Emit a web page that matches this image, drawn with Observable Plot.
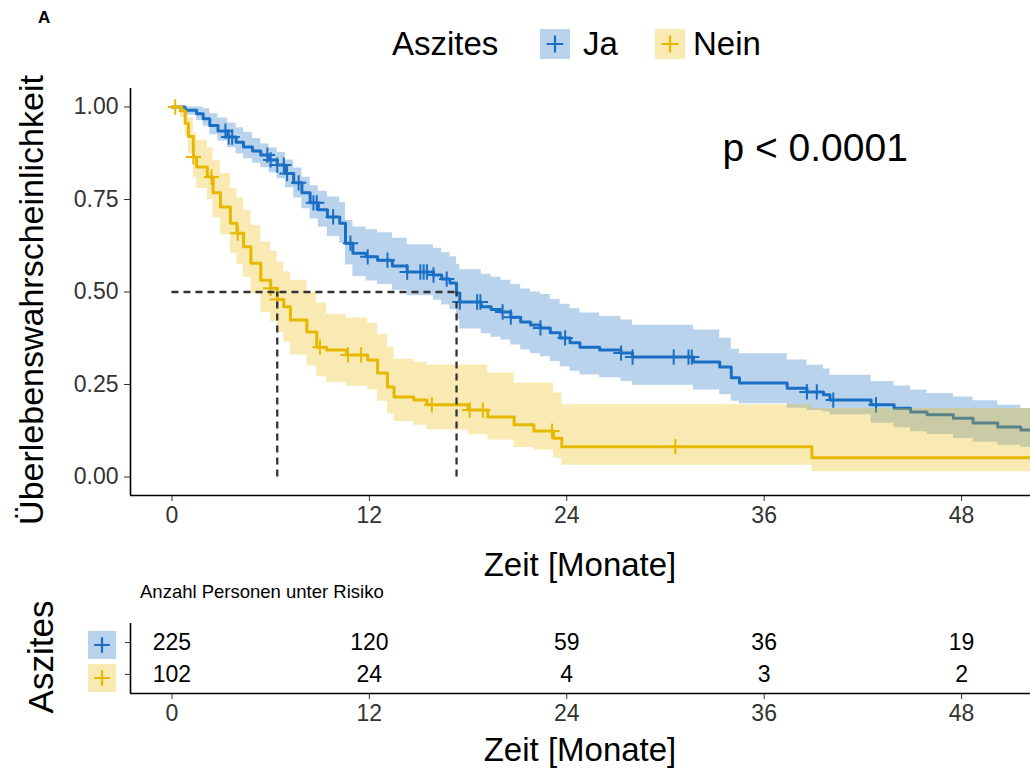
<!DOCTYPE html>
<html><head><meta charset="utf-8">
<script src="https://cdn.jsdelivr.net/npm/d3@7"></script>
<script src="https://cdn.jsdelivr.net/npm/@observablehq/plot@0.6"></script>
<style>
body{margin:0;background:#fff;}
#wrap{position:relative;width:1030px;height:776px;overflow:hidden;background:#fff;font-family:"Liberation Sans",Arial,Helvetica,sans-serif;color:#000;}
.abs{position:absolute;white-space:nowrap;}
.rot{position:absolute;white-space:nowrap;text-align:center;transform:rotate(-90deg);}
</style></head><body>
<div id="wrap">
  <div class="abs" style="left:38px;top:8px;font-size:17px;line-height:20px;font-weight:bold;">A</div>
  <div class="abs" style="left:392px;top:24px;font-size:33px;line-height:40px;">Aszites</div>
  <div class="abs" id="keyJa" style="left:540px;top:29px;"></div>
  <div class="abs" style="left:583px;top:24px;font-size:33px;line-height:40px;">Ja</div>
  <div class="abs" id="keyNein" style="left:655px;top:29px;"></div>
  <div class="abs" style="left:693px;top:24px;font-size:33px;line-height:40px;">Nein</div>
  <div class="abs" id="main" style="left:0;top:0;"></div>
  <div class="rot" style="left:-269px;top:280px;width:600px;height:40px;line-height:40px;font-size:34px;">Überlebenswahrscheinlichkeit</div>
  <div class="abs" style="left:280px;top:545px;width:600px;text-align:center;font-size:33px;line-height:40px;">Zeit [Monate]</div>
  <div class="abs" style="left:140px;top:582px;font-size:18.5px;line-height:20px;">Anzahl Personen unter Risiko</div>
  <div class="abs" id="risk" style="left:0;top:580px;"></div>
  <div class="rot" style="left:-59px;top:637px;width:200px;height:40px;line-height:40px;font-size:35px;">Aszites</div>
  <div class="abs" id="rkJa" style="left:88px;top:631px;"></div>
  <div class="abs" id="rkNein" style="left:88px;top:664px;"></div>
  <div class="abs" style="left:280px;top:730px;width:600px;text-align:center;font-size:33px;line-height:40px;">Zeit [Monate]</div>
</div>
<script>
// ---- data ----
const groups = ["Ja", "Nein"];
const tickMonths = [0, 12, 24, 36, 48];
const yTicks = [0, 0.25, 0.5, 0.75, 1];

const jaTime = [0, 0.8, 1.5, 1.9, 2.3, 2.8, 3.4, 3.9, 4.35, 4.9, 5.4, 5.9, 6.4, 6.9, 7.4, 7.9, 8.4, 8.9, 9.45, 10.2, 10.55, 11.0, 11.8, 12.5, 13.4, 14.3, 15.9, 16.4, 16.9, 17.3, 17.5, 18.8, 19.4, 20.0, 20.6, 21.2, 21.8, 22.4, 23.0, 23.6, 24.2, 24.8, 26.0, 27.3, 28.0, 31.7, 33.3, 34.0, 34.5, 37.4, 38.6, 39.6, 40.0, 42.5, 43.9, 44.9, 45.9, 47.5, 48.7, 50.2, 51.6, 53];
const jaSurv = [1, 0.991, 0.982, 0.968, 0.95, 0.935, 0.919, 0.905, 0.892, 0.881, 0.870, 0.857, 0.843, 0.82, 0.795, 0.768, 0.741, 0.722, 0.703, 0.686, 0.632, 0.605, 0.595, 0.586, 0.57, 0.554, 0.546, 0.535, 0.524, 0.497, 0.473, 0.46, 0.453, 0.446, 0.432, 0.419, 0.411, 0.403, 0.39, 0.376, 0.363, 0.351, 0.343, 0.335, 0.324, 0.311, 0.297, 0.268, 0.254, 0.240, 0.23, 0.222, 0.208, 0.195, 0.186, 0.176, 0.168, 0.159, 0.146, 0.135, 0.127, 0.127];
const jaUpper = [1, 1, 1, 0.995, 0.982, 0.97, 0.957, 0.944, 0.932, 0.915, 0.9, 0.889, 0.877, 0.857, 0.835, 0.81, 0.787, 0.772, 0.757, 0.742, 0.693, 0.676, 0.668, 0.66, 0.645, 0.628, 0.618, 0.606, 0.595, 0.575, 0.56, 0.548, 0.54, 0.532, 0.52, 0.508, 0.5, 0.493, 0.48, 0.467, 0.455, 0.443, 0.434, 0.424, 0.41, 0.397, 0.375, 0.345, 0.333, 0.316, 0.302, 0.292, 0.275, 0.258, 0.246, 0.235, 0.226, 0.216, 0.206, 0.194, 0.185, 0.185];
const jaLower = [1, 0.978, 0.963, 0.948, 0.925, 0.908, 0.89, 0.873, 0.86, 0.848, 0.836, 0.822, 0.806, 0.782, 0.754, 0.725, 0.697, 0.675, 0.65, 0.632, 0.573, 0.542, 0.53, 0.52, 0.505, 0.49, 0.478, 0.465, 0.452, 0.425, 0.4, 0.387, 0.378, 0.37, 0.357, 0.343, 0.333, 0.325, 0.312, 0.298, 0.286, 0.276, 0.268, 0.258, 0.248, 0.235, 0.222, 0.205, 0.198, 0.186, 0.18, 0.176, 0.168, 0.145, 0.133, 0.122, 0.115, 0.104, 0.094, 0.086, 0.08, 0.08];
const jaCensor = [3.25, 3.45, 3.66, 5.8, 6.0, 6.4, 6.8, 7.0, 7.7, 8.6, 8.8, 9.8, 10.85, 11.9, 13.1, 14.3, 15.1, 15.3, 15.5, 15.9, 16.7, 17.5, 18.55, 18.75, 20.1, 20.6, 22.4, 23.9, 27.3, 28.0, 30.5, 31.4, 31.6, 38.6, 39.2, 40.2, 42.8];

const neinTime = [0, 0.5, 0.8, 1.0, 1.3, 1.5, 2.15, 2.5, 2.95, 3.55, 3.95, 4.35, 4.8, 5.4, 6.0, 6.4, 6.8, 7.2, 8.2, 8.8, 9.4, 10.6, 11.9, 12.5, 13.1, 13.5, 14.7, 15.5, 18.0, 19.2, 20.8, 22.0, 23.2, 23.7, 38.9, 53];
const neinSurv = [1, 0.99, 0.956, 0.92, 0.865, 0.838, 0.811, 0.768, 0.73, 0.686, 0.659, 0.622, 0.578, 0.532, 0.51, 0.48, 0.46, 0.424, 0.392, 0.351, 0.343, 0.33, 0.316, 0.281, 0.243, 0.216, 0.208, 0.195, 0.181, 0.162, 0.141, 0.124, 0.105, 0.082, 0.052, 0.052];
const neinUpper = [1, 1, 0.99, 0.97, 0.93, 0.91, 0.89, 0.855, 0.82, 0.78, 0.755, 0.72, 0.68, 0.635, 0.61, 0.58, 0.555, 0.532, 0.5, 0.47, 0.44, 0.43, 0.415, 0.385, 0.35, 0.318, 0.31, 0.303, 0.303, 0.281, 0.254, 0.254, 0.227, 0.195, 0.185, 0.185];
const neinLower = [1, 0.97, 0.92, 0.875, 0.81, 0.78, 0.75, 0.7, 0.655, 0.605, 0.575, 0.54, 0.495, 0.445, 0.42, 0.39, 0.365, 0.33, 0.3, 0.27, 0.255, 0.245, 0.235, 0.205, 0.17, 0.15, 0.14, 0.127, 0.114, 0.1, 0.08, 0.073, 0.051, 0.032, 0.014, 0.014];
const neinCensor = [0.2, 1.3, 2.4, 4.0, 6.0, 6.4, 9.0, 10.7, 11.5, 15.8, 18.1, 18.9, 23.1, 30.6];

const medianTimes = [6.4, 17.3];
const pText = ["p < 0.0001"];

const riskTimes = [0, 12, 24, 36, 48];
const riskJa = [225, 120, 59, 36, 19];
const riskNein = [102, 24, 4, 3, 2];

// ---- styling ----
const blue = "#1a6ec4", yellow = "#E7B800";
const fontFam = '"Liberation Sans", Arial, Helvetica, sans-serif';
const xDomain = [-2.52, 52.19];

const toRows = (T, S, U, L) => T.map((t, i) => ({t, s: S[i], hi: U[i], lo: L[i]}));
const ja = toRows(jaTime, jaSurv, jaUpper, jaLower);
const nein = toRows(neinTime, neinSurv, neinUpper, neinLower);
const survAt = (T, S, t) => S[Math.max(0, d3.bisectRight(T, t) - 1)];
const jaC = jaCensor.map(t => ({t, s: survAt(jaTime, jaSurv, t)}));
const neinC = neinCensor.map(t => ({t, s: survAt(neinTime, neinSurv, t)}));

const dashStyle = {stroke: "#333", strokeWidth: 2.3, strokeDasharray: "7,5"};

const main = Plot.plot({
  width: 1030, height: 540,
  marginLeft: 130, marginRight: 0, marginTop: 88, marginBottom: 45,
  style: {fontFamily: fontFam, fontSize: "23px", color: "#333", background: "transparent"},
  x: {domain: xDomain, ticks: tickMonths, tickSize: 6, tickPadding: 5, label: null},
  y: {domain: [-0.05, 1.05], ticks: yTicks, tickFormat: d3.format(".2f"), tickSize: 6, tickPadding: 6, label: null},
  marks: [
    Plot.areaY(ja, {x: "t", y1: "lo", y2: "hi", curve: "step-after", fill: blue, fillOpacity: 0.3}),
    Plot.line(ja, {x: "t", y: "s", curve: "step-after", stroke: blue, strokeWidth: 3}),
    Plot.dot(jaC, {x: "t", y: "s", symbol: "plus", r: 5, stroke: blue, strokeWidth: 2}),
    Plot.areaY(nein, {x: "t", y1: "lo", y2: "hi", curve: "step-after", fill: yellow, fillOpacity: 0.3}),
    Plot.line(nein, {x: "t", y: "s", curve: "step-after", stroke: yellow, strokeWidth: 3}),
    Plot.dot(neinC, {x: "t", y: "s", symbol: "plus", r: 5, stroke: yellow, strokeWidth: 2}),
    Plot.ruleY([0.5], {x1: 0, x2: d3.max(medianTimes), ...dashStyle}),
    Plot.ruleX(medianTimes, {y1: 0, y2: 0.5, ...dashStyle}),
    Plot.text(pText, {x: 39.1, y: 0.889, text: d => d, fontSize: 39, fill: "#000", fontFamily: fontFam}),
    Plot.ruleX([xDomain[0]], {stroke: "#000", strokeWidth: 1.6}),
    Plot.ruleY([-0.05], {stroke: "#000", strokeWidth: 1.6})
  ]
});
document.getElementById("main").appendChild(main);

const riskRows = [];
riskTimes.forEach((t, i) => {
  riskRows.push({t, row: 2, n: riskJa[i]});
  riskRows.push({t, row: 1, n: riskNein[i]});
});

const risk = Plot.plot({
  width: 1030, height: 150,
  marginLeft: 130, marginRight: 0, marginTop: 43, marginBottom: 37,
  style: {fontFamily: fontFam, fontSize: "23px", color: "#333", background: "transparent"},
  x: {domain: xDomain, ticks: tickMonths, tickSize: 6, tickPadding: 5, label: null},
  y: {domain: [0.4, 2.6], ticks: [1, 2], tickFormat: () => "", tickSize: 5, label: null},
  marks: [
    Plot.text(riskRows, {x: "t", y: "row", text: d => String(d.n), fontSize: 23, fill: "#000", fontFamily: fontFam}),
    Plot.ruleX([xDomain[0]], {stroke: "#000", strokeWidth: 1.6}),
    Plot.ruleY([0.4], {stroke: "#000", strokeWidth: 1.6})
  ]
});
document.getElementById("risk").appendChild(risk);

// legend keys
function key(id, color, size) {
  const s = d3.select("#" + id).append("svg").attr("width", size).attr("height", size);
  s.append("rect").attr("width", size).attr("height", size).attr("fill", color).attr("fill-opacity", 0.3);
  const h = size * 0.28;
  s.append("path").attr("d", `M${size/2 - h},${size/2}H${size/2 + h}M${size/2},${size/2 - h}V${size/2 + h}`)
    .attr("stroke", color).attr("stroke-width", 2.2).attr("fill", "none");
}
key("keyJa", blue, 30);
key("keyNein", yellow, 30);
key("rkJa", blue, 28);
key("rkNein", yellow, 28);
</script>
</body></html>
